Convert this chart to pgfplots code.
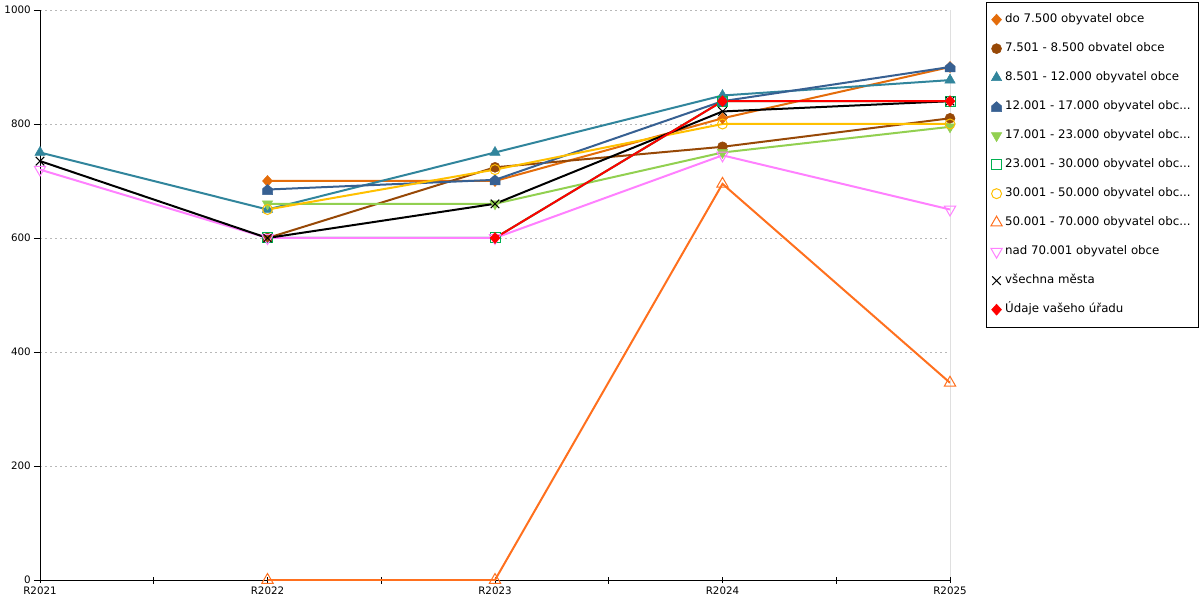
\documentclass[border=0pt]{standalone}
\usepackage{fontspec}
\setmainfont{DejaVu Sans}
\usepackage{pgfplots}
\pgfplotsset{compat=1.18}
\definecolor{cDo}{RGB}{228,108,10}
\definecolor{cBrown}{RGB}{151,72,6}
\definecolor{cTeal}{RGB}{49,133,156}
\definecolor{cBlue}{RGB}{55,96,146}
\definecolor{cLGreen}{RGB}{146,208,80}
\definecolor{cDGreen}{RGB}{0,176,80}
\definecolor{cYellow}{RGB}{255,192,0}
\definecolor{cOrange}{RGB}{255,112,30}
\definecolor{cPink}{RGB}{255,128,255}
\definecolor{cRed}{RGB}{255,0,0}
\pgfdeclareplotmark{house*}{%
  \pgfpathmoveto{\pgfpoint{-\pgfplotmarksize}{-\pgfplotmarksize}}%
  \pgfpathlineto{\pgfpoint{\pgfplotmarksize}{-\pgfplotmarksize}}%
  \pgfpathlineto{\pgfpoint{\pgfplotmarksize}{0.15\pgfplotmarksize}}%
  \pgfpathlineto{\pgfpoint{0pt}{\pgfplotmarksize}}%
  \pgfpathlineto{\pgfpoint{-\pgfplotmarksize}{0.15\pgfplotmarksize}}%
  \pgfpathclose
  \pgfusepathqfillstroke}
\pgfdeclareplotmark{rdiamond*}{%
  \pgfpathmoveto{\pgfpoint{0pt}{\pgfplotmarksize}}%
  \pgfpathlineto{\pgfpoint{0.9\pgfplotmarksize}{0pt}}%
  \pgfpathlineto{\pgfpoint{0pt}{-\pgfplotmarksize}}%
  \pgfpathlineto{\pgfpoint{-0.9\pgfplotmarksize}{0pt}}%
  \pgfpathclose
  \pgfusepathqfillstroke}
\pgfdeclareplotmark{osquare}{%
  \pgfpathmoveto{\pgfpoint{-\pgfplotmarksize}{-\pgfplotmarksize}}%
  \pgfpathlineto{\pgfpoint{\pgfplotmarksize}{-\pgfplotmarksize}}%
  \pgfpathlineto{\pgfpoint{\pgfplotmarksize}{\pgfplotmarksize}}%
  \pgfpathlineto{\pgfpoint{-\pgfplotmarksize}{\pgfplotmarksize}}%
  \pgfpathclose
  \pgfusepathqstroke}
\begin{document}
\begin{tikzpicture}
\useasboundingbox (0,0) rectangle (1200pt,600pt);
\begin{axis}[
  at={(40pt,20pt)}, anchor=south west,
  scale only axis, width=910pt, height=570pt,
  xmin=0, xmax=4, ymin=0, ymax=1000,
  axis x line*=bottom, axis y line*=left,
  axis line style={black, line width=1pt},
  xtick={0,1,2,3,4},
  xticklabels={R2021,R2022,R2023,R2024,R2025},
  minor xtick={0.5,1.5,2.5,3.5},
  ytick={0,200,400,600,800,1000},
  tick align=outside,
  major tick length=6pt, minor tick length=7pt,
  x tick style={black, line width=0.8pt, yshift=3.5pt},
  y tick style={black, line width=0.8pt},
  ymajorgrids,
  major grid style={dash pattern=on 2pt off 3pt, color=black!28, line width=0.8pt},
  tick label style={font=\fontsize{10.3}{12}\selectfont},
  /pgf/number format/assume math mode=true,
  /pgf/number format/1000 sep={},
  yticklabel style={xshift=1pt},
  xticklabel style={yshift=3pt},
  legend style={at={(1.0396,1.014)}, anchor=north west, draw=black, line width=0.8pt, fill=white,
    font=\fontsize{11.8}{13}\selectfont, row sep=15.5pt, inner xsep=4.5pt, inner ysep=10.5pt,
    nodes={text height=9pt, text depth=2.5pt, inner ysep=1pt, inner xsep=3pt}},
  legend cell align=left,
  legend image code/.code={\draw[#1, only marks] plot coordinates {(5pt,0pt)};},
  line width=2pt,
]
\addplot[black, line width=1pt, forget plot] coordinates {(4,0) (4,1000)};

\addplot[cDo, mark=rdiamond*, mark size=5.5pt, mark options={solid, cDo, line width=0.5pt}]
  coordinates {(1,700) (2,700) (3,810) (4,900)};
\addlegendentry{do 7.500 obyvatel obce}

\addplot[cBrown, mark=*, mark size=5pt, mark options={solid, cBrown, line width=0.5pt}]
  coordinates {(1,600) (2,724) (3,760) (4,810)};
\addlegendentry{7.501 - 8.500 obvatel obce}

\addplot[cTeal, mark=triangle*, mark size=6pt, mark options={solid, cTeal, line width=0.5pt}]
  coordinates {(0,750) (1,650) (2,750) (3,850) (4,877)};
\addlegendentry{8.501 - 12.000 obyvatel obce}

\addplot[cBlue, mark=house*, mark size=5pt, mark options={solid, cBlue, line width=0.5pt}]
  coordinates {(1,685) (2,702) (3,840) (4,900)};
\addlegendentry{12.001 - 17.000 obyvatel obc...}

\addplot[cLGreen, mark=triangle*, mark size=6pt, mark options={solid, cLGreen, line width=0.5pt, rotate=180}]
  coordinates {(1,660) (2,660) (3,750) (4,795)};
\addlegendentry{17.001 - 23.000 obyvatel obc...}

\addplot[cDGreen, mark=osquare, mark size=5pt, mark options={solid, draw=cDGreen, line width=1pt}]
  coordinates {(1,600) (2,600) (3,840) (4,840)};
\addlegendentry{23.001 - 30.000 obyvatel obc...}

\addplot[cYellow, mark=o, mark size=5pt, mark options={solid, draw=cYellow, line width=1pt}]
  coordinates {(1,650) (2,720) (3,800) (4,800)};
\addlegendentry{30.001 - 50.000 obyvatel obc...}

\addplot[cOrange, mark=triangle, mark size=6.5pt, mark options={solid, draw=cOrange, line width=1pt}]
  coordinates {(1,0) (2,0) (3,695) (4,346)};
\addlegendentry{50.001 - 70.000 obyvatel obc...}

\addplot[cPink, mark=triangle, mark size=6.5pt, mark options={solid, draw=cPink, line width=1pt, rotate=180}]
  coordinates {(0,720) (1,600) (2,600) (3,745) (4,650)};
\addlegendentry{nad 70.001 obyvatel obce}

\addplot[black, mark=x, mark size=6pt, mark options={solid, black, line width=1pt}]
  coordinates {(0,735) (1,600) (2,660) (3,822) (4,840)};
\addlegendentry{všechna města}

\addplot[cRed, mark=rdiamond*, mark size=5.5pt, mark options={solid, cRed, line width=0.5pt}]
  coordinates {(2,600) (3,840) (4,840)};
\addlegendentry{Údaje vašeho úřadu}
\end{axis}
\end{tikzpicture}
\end{document}
